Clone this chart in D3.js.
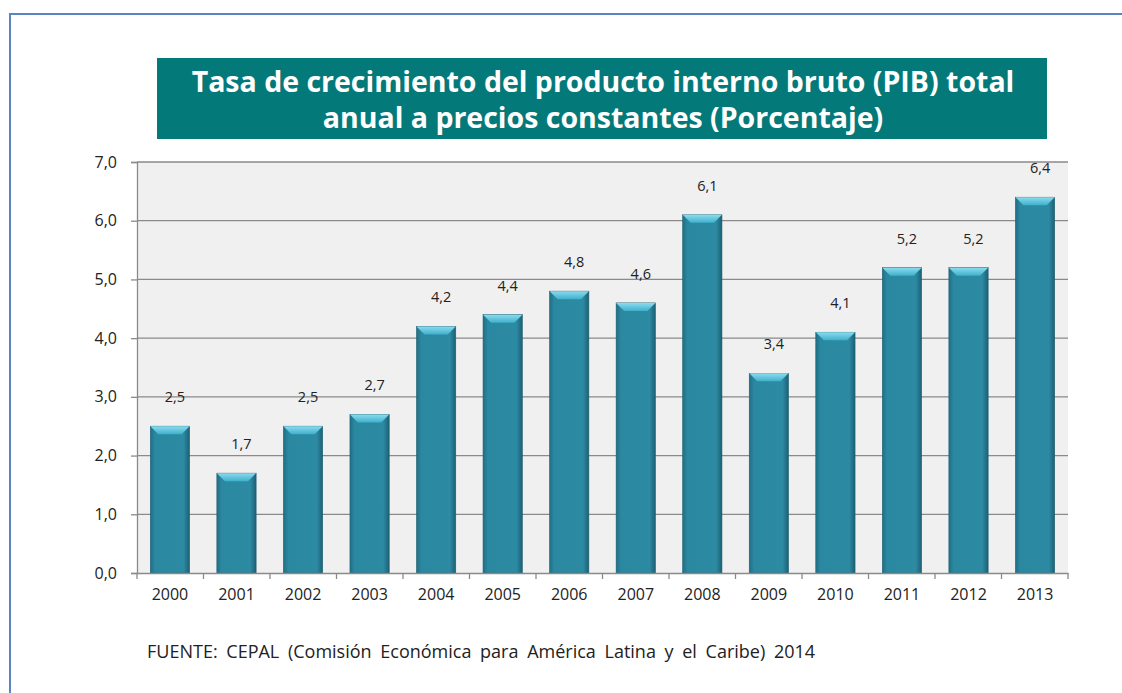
<!DOCTYPE html>
<html>
<head>
<meta charset="utf-8">
<script src="https://cdn.jsdelivr.net/npm/d3@7"></script>
<style>
  body { margin: 0; background: #fff; }
  svg { display: block; }
  .tick text { font-family: "Open Sans", Lato, sans-serif; font-size: 16px; fill: #222; }
  .y-axis .tick text { font-size: 16px; }
  .bar-label { font-family: "Open Sans", Lato, sans-serif; font-size: 14.5px; fill: #222; }
</style>
</head>
<body>
<svg id="chart" width="1122" height="693"></svg>
<script>
// Data
const years = ['2000', '2001', '2002', '2003', '2004', '2005', '2006',
               '2007', '2008', '2009', '2010', '2011', '2012', '2013'];
const growth = [2.5, 1.7, 2.5, 2.7, 4.2, 4.4, 4.8, 4.6, 6.1, 3.4, 4.1, 5.2, 5.2, 6.4];
const yTicks = [0, 1, 2, 3, 4, 5, 6, 7];
const titleLines = ['Tasa de crecimiento del producto interno bruto (PIB) total',
                    'anual a precios constantes (Porcentaje)'];
const sourceText = 'FUENTE: CEPAL (Comisión Económica para América Latina y el Caribe) 2014';

// Comma as decimal separator
const fmt = v => d3.format('.1f')(v).replace('.', ',');

const svg = d3.select('#chart');

// Outer blue frame
svg.append('rect')
    .attr('x', 10).attr('y', 14)
    .attr('width', 1130).attr('height', 700)
    .attr('fill', 'none')
    .attr('stroke', '#5b84c4')
    .attr('stroke-width', 2);

// Title box
svg.append('rect')
    .attr('x', 157).attr('y', 58)
    .attr('width', 890).attr('height', 81)
    .attr('fill', '#04797a');

svg.append('g').selectAll('text')
    .data(titleLines)
    .enter()
    .append('text')
    .attr('x', 603)
    .attr('y', (d, i) => 92 + i * 36)
    .attr('text-anchor', 'middle')
    .style('font-family', '"Open Sans", Lato, sans-serif')
    .style('font-weight', 'bold')
    .style('font-size', '28.5px')
    .style('fill', '#ffffff')
    .text(d => d);

const margin = { top: 162, left: 137 };
const width = 1068 - margin.left;
const height = 573 - margin.top;

const g = svg.append('g')
    .attr('transform', `translate(${margin.left},${margin.top})`);

const xScale = d3.scaleBand()
    .domain(years)
    .range([0, width])
    .paddingInner(0.41)
    .paddingOuter(0.2);

const yScale = d3.scaleLinear()
    .domain([0, 7])
    .range([height, 0]);

// Plot background
g.append('rect')
    .attr('width', width)
    .attr('height', height)
    .attr('fill', '#f0f0f0');

// Horizontal grid lines
g.selectAll('.grid-line')
    .data(yTicks.filter(d => d > 0))
    .enter()
    .append('line')
    .attr('class', 'grid-line')
    .attr('x1', 0)
    .attr('x2', width)
    .attr('y1', d => yScale(d))
    .attr('y2', d => yScale(d))
    .attr('stroke', '#8a8a8a')
    .attr('stroke-width', 1.3);

// Gradients for the bevelled bars
const defs = svg.append('defs');
const bodyGrad = defs.append('linearGradient')
    .attr('id', 'barBody')
    .attr('x1', '0%').attr('x2', '100%');
bodyGrad.append('stop').attr('offset', '0%').attr('stop-color', '#1f6f85');
bodyGrad.append('stop').attr('offset', '12%').attr('stop-color', '#2b88a1');
bodyGrad.append('stop').attr('offset', '85%').attr('stop-color', '#2d8aa3');
bodyGrad.append('stop').attr('offset', '100%').attr('stop-color', '#1c6074');

const capGrad = defs.append('linearGradient')
    .attr('id', 'barCap')
    .attr('x1', '0%').attr('x2', '0%')
    .attr('y1', '0%').attr('y2', '100%');
capGrad.append('stop').attr('offset', '0%').attr('stop-color', '#8adcee');
capGrad.append('stop').attr('offset', '100%').attr('stop-color', '#40b0cc');

const bars = g.selectAll('.bar')
    .data(years.map((y, i) => ({ year: y, value: growth[i] })))
    .enter()
    .append('g')
    .attr('class', 'bar');

// Bar body
bars.append('rect')
    .attr('x', d => xScale(d.year))
    .attr('y', d => yScale(d.value))
    .attr('width', xScale.bandwidth())
    .attr('height', d => height - yScale(d.value))
    .attr('fill', 'url(#barBody)')
    .attr('stroke', '#1d5f70')
    .attr('stroke-width', 0.6);

// Bevel on top of the bar
const bevel = 8;
bars.append('path')
    .attr('d', d => {
        const x0 = xScale(d.year);
        const x1 = x0 + xScale.bandwidth();
        const y0 = yScale(d.value);
        return `M${x0},${y0}L${x1},${y0}L${x1 - bevel},${y0 + bevel}L${x0 + bevel},${y0 + bevel}Z`;
    })
    .attr('fill', 'url(#barCap)');

// Value labels
bars.append('text')
    .attr('class', 'bar-label')
    .attr('x', d => xScale(d.year) + xScale.bandwidth() / 2 + 5)
    .attr('y', d => yScale(d.value) - 24)
    .attr('text-anchor', 'middle')
    .text(d => fmt(d.value));

// Y axis
const yAxis = g.append('g')
    .attr('class', 'y-axis')
    .call(d3.axisLeft(yScale)
        .tickValues(yTicks)
        .tickFormat(fmt)
        .tickSize(6)
        .tickPadding(14));
yAxis.select('.domain').attr('stroke', '#8a8a8a').attr('stroke-width', 1.3);
yAxis.selectAll('.tick line').attr('stroke', '#8a8a8a').attr('stroke-width', 1.3);

// X axis with ticks between categories
const xAxis = g.append('g')
    .attr('transform', `translate(0,${height})`)
    .call(d3.axisBottom(xScale).tickSize(0).tickPadding(16));
xAxis.select('.domain').attr('stroke', '#8a8a8a').attr('stroke-width', 1.3);

g.append('g')
    .selectAll('line')
    .data(d3.range(years.length + 1))
    .enter()
    .append('line')
    .attr('x1', i => i * width / years.length)
    .attr('x2', i => i * width / years.length)
    .attr('y1', height)
    .attr('y2', height + 6)
    .attr('stroke', '#8a8a8a')
    .attr('stroke-width', 1.3);

// Source note
svg.append('text')
    .attr('x', 147)
    .attr('y', 658)
    .style('font-family', '"Open Sans", Lato, sans-serif')
    .style('font-size', '18px')
    .style('word-spacing', '4px')
    .style('fill', '#222')
    .text(sourceText);
</script>
</body>
</html>
